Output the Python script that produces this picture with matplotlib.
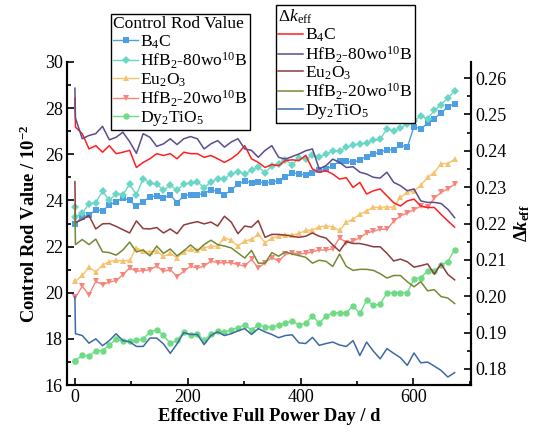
import matplotlib
matplotlib.use("Agg")
import matplotlib.pyplot as plt
from matplotlib.ticker import MultipleLocator, FormatStrFormatter

plt.rcParams['font.family'] = 'serif'
plt.rcParams['font.serif'] = ['Liberation Serif', 'DejaVu Serif']
plt.rcParams['mathtext.fontset'] = 'custom'
plt.rcParams['mathtext.rm'] = 'Liberation Serif'
plt.rcParams['mathtext.it'] = 'Liberation Serif:italic'
plt.rcParams['mathtext.bf'] = 'Liberation Serif:bold'
plt.rcParams['mathtext.bfit'] = 'Liberation Serif:italic:bold'

# Burnup steps (effective full power days)
days = [0, 1, 13, 25, 37, 49, 61, 73, 85, 97, 109, 121, 133, 145, 157, 169, 181,
        193, 205, 217, 229, 241, 253, 265, 277, 289, 301, 313, 325, 337, 349, 361,
        373, 385, 397, 409, 421, 433, 445, 457, 469, 481, 493, 505, 517, 529, 541,
        553, 565, 577, 589, 601, 613, 625, 637, 649, 661, 673]

# Control rod value (x 10^-2)
crv_b4c = [23.0, 23.0, 23.3, 23.35, 23.6, 23.55, 23.8, 23.95, 24.1, 24.0,
           23.75, 23.95, 24.15, 24.2, 24.1, 24.25, 23.9, 24.2, 24.25, 24.25,
           24.3, 24.45, 24.4, 24.25, 24.45, 24.7, 24.85, 24.75, 24.8, 24.75,
           24.8, 24.85, 25.0, 25.2, 25.15, 25.1, 25.2, 25.3, 25.35, 25.5,
           25.7, 25.7, 25.65, 25.75, 25.9, 26.0, 26.1, 26.2, 26.2, 26.4,
           26.3, 27.2, 27.1, 27.35, 27.55, 27.8, 28.05, 28.2]
crv_hfb80 = [23.7, 23.3, 23.45, 23.85, 23.9, 24.4, 24.0, 24.3, 24.25, 24.7,
             24.25, 24.95, 24.75, 24.7, 24.45, 24.65, 24.45, 24.7, 24.75, 24.8,
             24.55, 24.8, 24.95, 24.95, 25.15, 25.25, 25.15, 25.3, 25.45, 25.2,
             25.5, 25.6, 25.75, 25.55, 25.85, 25.8, 25.95, 25.9, 26.0, 26.15,
             26.15, 26.3, 26.4, 26.45, 26.5, 26.6, 26.65, 27.1, 27.0, 27.15,
             27.3, 27.45, 27.65, 27.55, 27.9, 28.15, 28.45, 28.75]
crv_eu2o3 = [20.5, 20.5, 20.75, 21.1, 20.9, 21.2, 21.35, 21.4, 21.38, 21.4,
             21.95, 21.8, 21.78, 21.8, 21.57, 21.7, 21.52, 21.78, 21.88, 21.83,
             21.95, 22.02, 22.02, 22.38, 22.27, 22.02, 22.24, 22.31, 22.53, 22.17,
             22.35, 22.46, 22.5, 22.5, 22.57, 22.7, 22.72, 22.85, 22.9, 22.85,
             22.7, 23.05, 23.2, 23.4, 23.55, 23.7, 23.7, 23.72, 23.7, 24.13,
             24.35, 24.42, 24.65, 25.0, 25.2, 25.6, 25.6, 25.78]
crv_hfb20 = [19.8, 19.8, 20.28, 19.91, 20.49, 20.35, 20.46, 20.52, 20.78, 21.07,
             20.93, 20.96, 21.0, 21.15, 20.93, 21.0, 20.7, 20.93, 21.15, 21.07,
             21.15, 21.37, 21.3, 21.3, 21.3, 21.22, 21.15, 21.45, 21.07, 21.3,
             21.52, 21.37, 21.66, 21.73, 21.69, 21.7, 21.78, 21.85, 21.85, 21.9,
             22.38, 22.17, 22.24, 22.38, 22.59, 22.66, 22.75, 22.75, 23.1, 23.33,
             23.45, 23.6, 23.75, 23.7, 24.1, 24.35, 24.5, 24.7]
crv_dy = [17.03, 17.05, 17.3, 17.25, 17.49, 17.49, 17.73, 17.99, 17.9, 17.9,
          17.94, 18.0, 18.3, 18.4, 18.15, 17.8, 17.94, 18.3, 18.15, 18.2,
          17.94, 18.2, 18.34, 18.28, 18.39, 18.49, 18.6, 18.39, 18.6, 18.53,
          18.5, 18.6, 18.67, 18.78, 18.6, 18.67, 18.99, 18.67, 18.99, 19.13,
          19.13, 19.13, 19.43, 19.1, 19.67, 19.45, 19.5, 19.99, 20.0, 20.0,
          20.0, 20.6, 20.65, 20.94, 20.95, 21.2, 21.35, 21.87]

# Reactivity worth (delta k_eff)
dk_b4c = [0.2544, 0.2465, 0.2447, 0.2405, 0.2414, 0.2396, 0.2414, 0.2392, 0.2396, 0.2401,
          0.2354, 0.2368, 0.2378, 0.2392, 0.2387, 0.2392, 0.2378, 0.2396, 0.2392, 0.2392,
          0.2382, 0.2387, 0.2378, 0.2368, 0.2378, 0.2392, 0.2414, 0.2378, 0.2368, 0.2354,
          0.2362, 0.2359, 0.2373, 0.2375, 0.2373, 0.2387, 0.2350, 0.2341, 0.2345, 0.2336,
          0.2322, 0.2326, 0.2299, 0.2313, 0.2281, 0.2290, 0.2295, 0.2276, 0.2257, 0.2248,
          0.2262, 0.2267, 0.2248, 0.2244, 0.2244, 0.2225, 0.2207, 0.2190]
dk_hfb80 = [0.2572, 0.2490, 0.2433, 0.2442, 0.2447, 0.2467, 0.2430, 0.2437, 0.2451, 0.2425,
            0.2393, 0.2447, 0.2437, 0.2412, 0.2419, 0.2433, 0.2417, 0.2433, 0.2439, 0.2433,
            0.2405, 0.2419, 0.2428, 0.2410, 0.2424, 0.2433, 0.2405, 0.2401, 0.2382, 0.2401,
            0.2414, 0.2382, 0.2377, 0.2384, 0.2391, 0.2400, 0.2405, 0.2350, 0.2359, 0.2377,
            0.2368, 0.2354, 0.2356, 0.2341, 0.2336, 0.2327, 0.2325, 0.2341, 0.2313, 0.2304,
            0.2290, 0.2295, 0.2262, 0.2258, 0.2258, 0.2255, 0.2239, 0.2216]
dk_eu2o3 = [0.2315, 0.2202, 0.2211, 0.2222, 0.2185, 0.2199, 0.2200, 0.2192, 0.2183, 0.2174,
            0.2207, 0.2186, 0.2185, 0.2189, 0.2174, 0.2185, 0.2172, 0.2196, 0.2201, 0.2205,
            0.2199, 0.2204, 0.2193, 0.2220, 0.2204, 0.2172, 0.2193, 0.2190, 0.2208, 0.2162,
            0.2170, 0.2170, 0.2168, 0.2165, 0.2162, 0.2165, 0.2174, 0.2165, 0.2160, 0.2141,
            0.2124, 0.2150, 0.2145, 0.2145, 0.2141, 0.2136, 0.2136, 0.2118, 0.2097, 0.2102,
            0.2095, 0.2080, 0.2084, 0.2089, 0.2061, 0.2089, 0.2060, 0.2045]
dk_hfb20 = [0.2237, 0.2142, 0.2156, 0.2142, 0.2157, 0.2122, 0.2120, 0.2113, 0.2127, 0.2149,
            0.2122, 0.2127, 0.2111, 0.2138, 0.2118, 0.2130, 0.2111, 0.2125, 0.2141, 0.2125,
            0.2142, 0.2154, 0.2142, 0.2138, 0.2133, 0.2119, 0.2105, 0.2126, 0.2091, 0.2091,
            0.2120, 0.2110, 0.2122, 0.2116, 0.2112, 0.2107, 0.2091, 0.2099, 0.2096, 0.2082,
            0.2116, 0.2082, 0.2071, 0.2074, 0.2074, 0.2071, 0.2062, 0.2050, 0.2057, 0.2057,
            0.2040, 0.2026, 0.2040, 0.2015, 0.2018, 0.1999, 0.1995, 0.1980]
dk_dy = [0.1999, 0.1897, 0.1892, 0.1871, 0.1883, 0.1864, 0.1878, 0.1897, 0.1878, 0.1875,
         0.1862, 0.1862, 0.1885, 0.1885, 0.1869, 0.1843, 0.1869, 0.1900, 0.1895, 0.1895,
         0.1867, 0.1892, 0.1902, 0.1892, 0.1897, 0.1905, 0.1911, 0.1895, 0.1911, 0.1902,
         0.1895, 0.1886, 0.1892, 0.1894, 0.1872, 0.1870, 0.1887, 0.1865, 0.1870, 0.1874,
         0.1866, 0.1862, 0.1878, 0.1837, 0.1874, 0.1849, 0.1828, 0.1856, 0.1843, 0.1831,
         0.1810, 0.1844, 0.1817, 0.1819, 0.1808, 0.1796, 0.1778, 0.1790]

names = [r'B$_4$C', r'HfB$_2$-80wo$^{10}$B', r'Eu$_2$O$_3$',
         r'HfB$_2$-20wo$^{10}$B', r'Dy$_2$TiO$_5$']

fig = plt.figure(figsize=(5.37, 4.33), dpi=100)
ax = fig.add_axes([67/537, 1-385/433, (471-67)/537, (385-62)/433])
ax2 = ax.twinx()

crv_series = [crv_b4c, crv_hfb80, crv_eu2o3, crv_hfb20, crv_dy]
crv_colors = ['#4c9fe3', '#6ad6c6', '#f7c26e', '#f7857a', '#6fdb85']
crv_markers = ['s', 'D', '^', 'v', 'o']
crv_msize = [4.0, 4.0, 4.8, 4.8, 4.6]
h1 = []
for vals, c, m, ms, nm in zip(crv_series, crv_colors, crv_markers, crv_msize, names):
    ln, = ax.plot(days, vals, color=c, marker=m, markersize=ms, lw=1.0,
                  markeredgewidth=0, label=nm)
    h1.append(ln)

dk_series = [dk_b4c, dk_hfb80, dk_eu2o3, dk_hfb20, dk_dy]
dk_colors = ['#ff1f1f', '#5f4b8b', '#8e3b3b', '#738a34', '#3c6aa6']
h2 = []
for vals, c, nm in zip(dk_series, dk_colors, names):
    ln, = ax2.plot(days, vals, color=c, lw=1.1, label=nm)
    h2.append(ln)

ax.set_xlim(-14, 702)
ax.set_ylim(16, 30)
ax2.set_ylim(0.1756, 0.2644)

ax.xaxis.set_major_locator(MultipleLocator(200))
ax.xaxis.set_minor_locator(MultipleLocator(100))
ax.yaxis.set_major_locator(MultipleLocator(2))
ax.yaxis.set_minor_locator(MultipleLocator(1))
ax2.yaxis.set_major_locator(MultipleLocator(0.01))
ax2.yaxis.set_minor_locator(MultipleLocator(0.005))
ax2.yaxis.set_major_formatter(FormatStrFormatter('%.2f'))

for a in (ax, ax2):
    a.spines['top'].set_visible(False)
    for s in a.spines.values():
        s.set_linewidth(1.5)
    a.tick_params(which='both', direction='in', width=1.2, labelsize=13, pad=3)
    a.tick_params(which='major', length=5)
    a.tick_params(which='minor', length=3)
ax.tick_params(axis='y', which='both', right=False)
ax.tick_params(axis='x', which='both', top=False)

ax.set_xlabel('Effective Full Power Day / d', fontsize=13.3, fontweight='bold', labelpad=1)
ax.set_ylabel(r'Control Rod Value / 10$^{\mathbf{-2}}$', fontsize=13.3,
              fontweight='bold', labelpad=4)
ax2.set_ylabel(r'$\mathbf{\Delta}\mathbfit{k}_{\mathbf{eff}}$', fontsize=13.3, labelpad=4)

common = dict(fontsize=12.6, title_fontsize=12.6, frameon=True, fancybox=False,
              edgecolor='black', framealpha=1, borderpad=0.12, labelspacing=0.0,
              handlelength=1.45, handletextpad=0.1, borderaxespad=0,
              alignment='left', loc='upper left')
leg1 = fig.legend(handles=h1, title='Control Rod Value',
                  bbox_to_anchor=(111/537, 1-14/433), **common)
leg2 = fig.legend(handles=h2, title=r'$\Delta k_{\mathrm{eff}}$',
                  bbox_to_anchor=(276/537, 1-5/433), **common)
for lg in (leg1, leg2):
    lg.get_frame().set_linewidth(1.0)
    lg._legend_box.sep = 1

fig.savefig('out.png', dpi=100)
